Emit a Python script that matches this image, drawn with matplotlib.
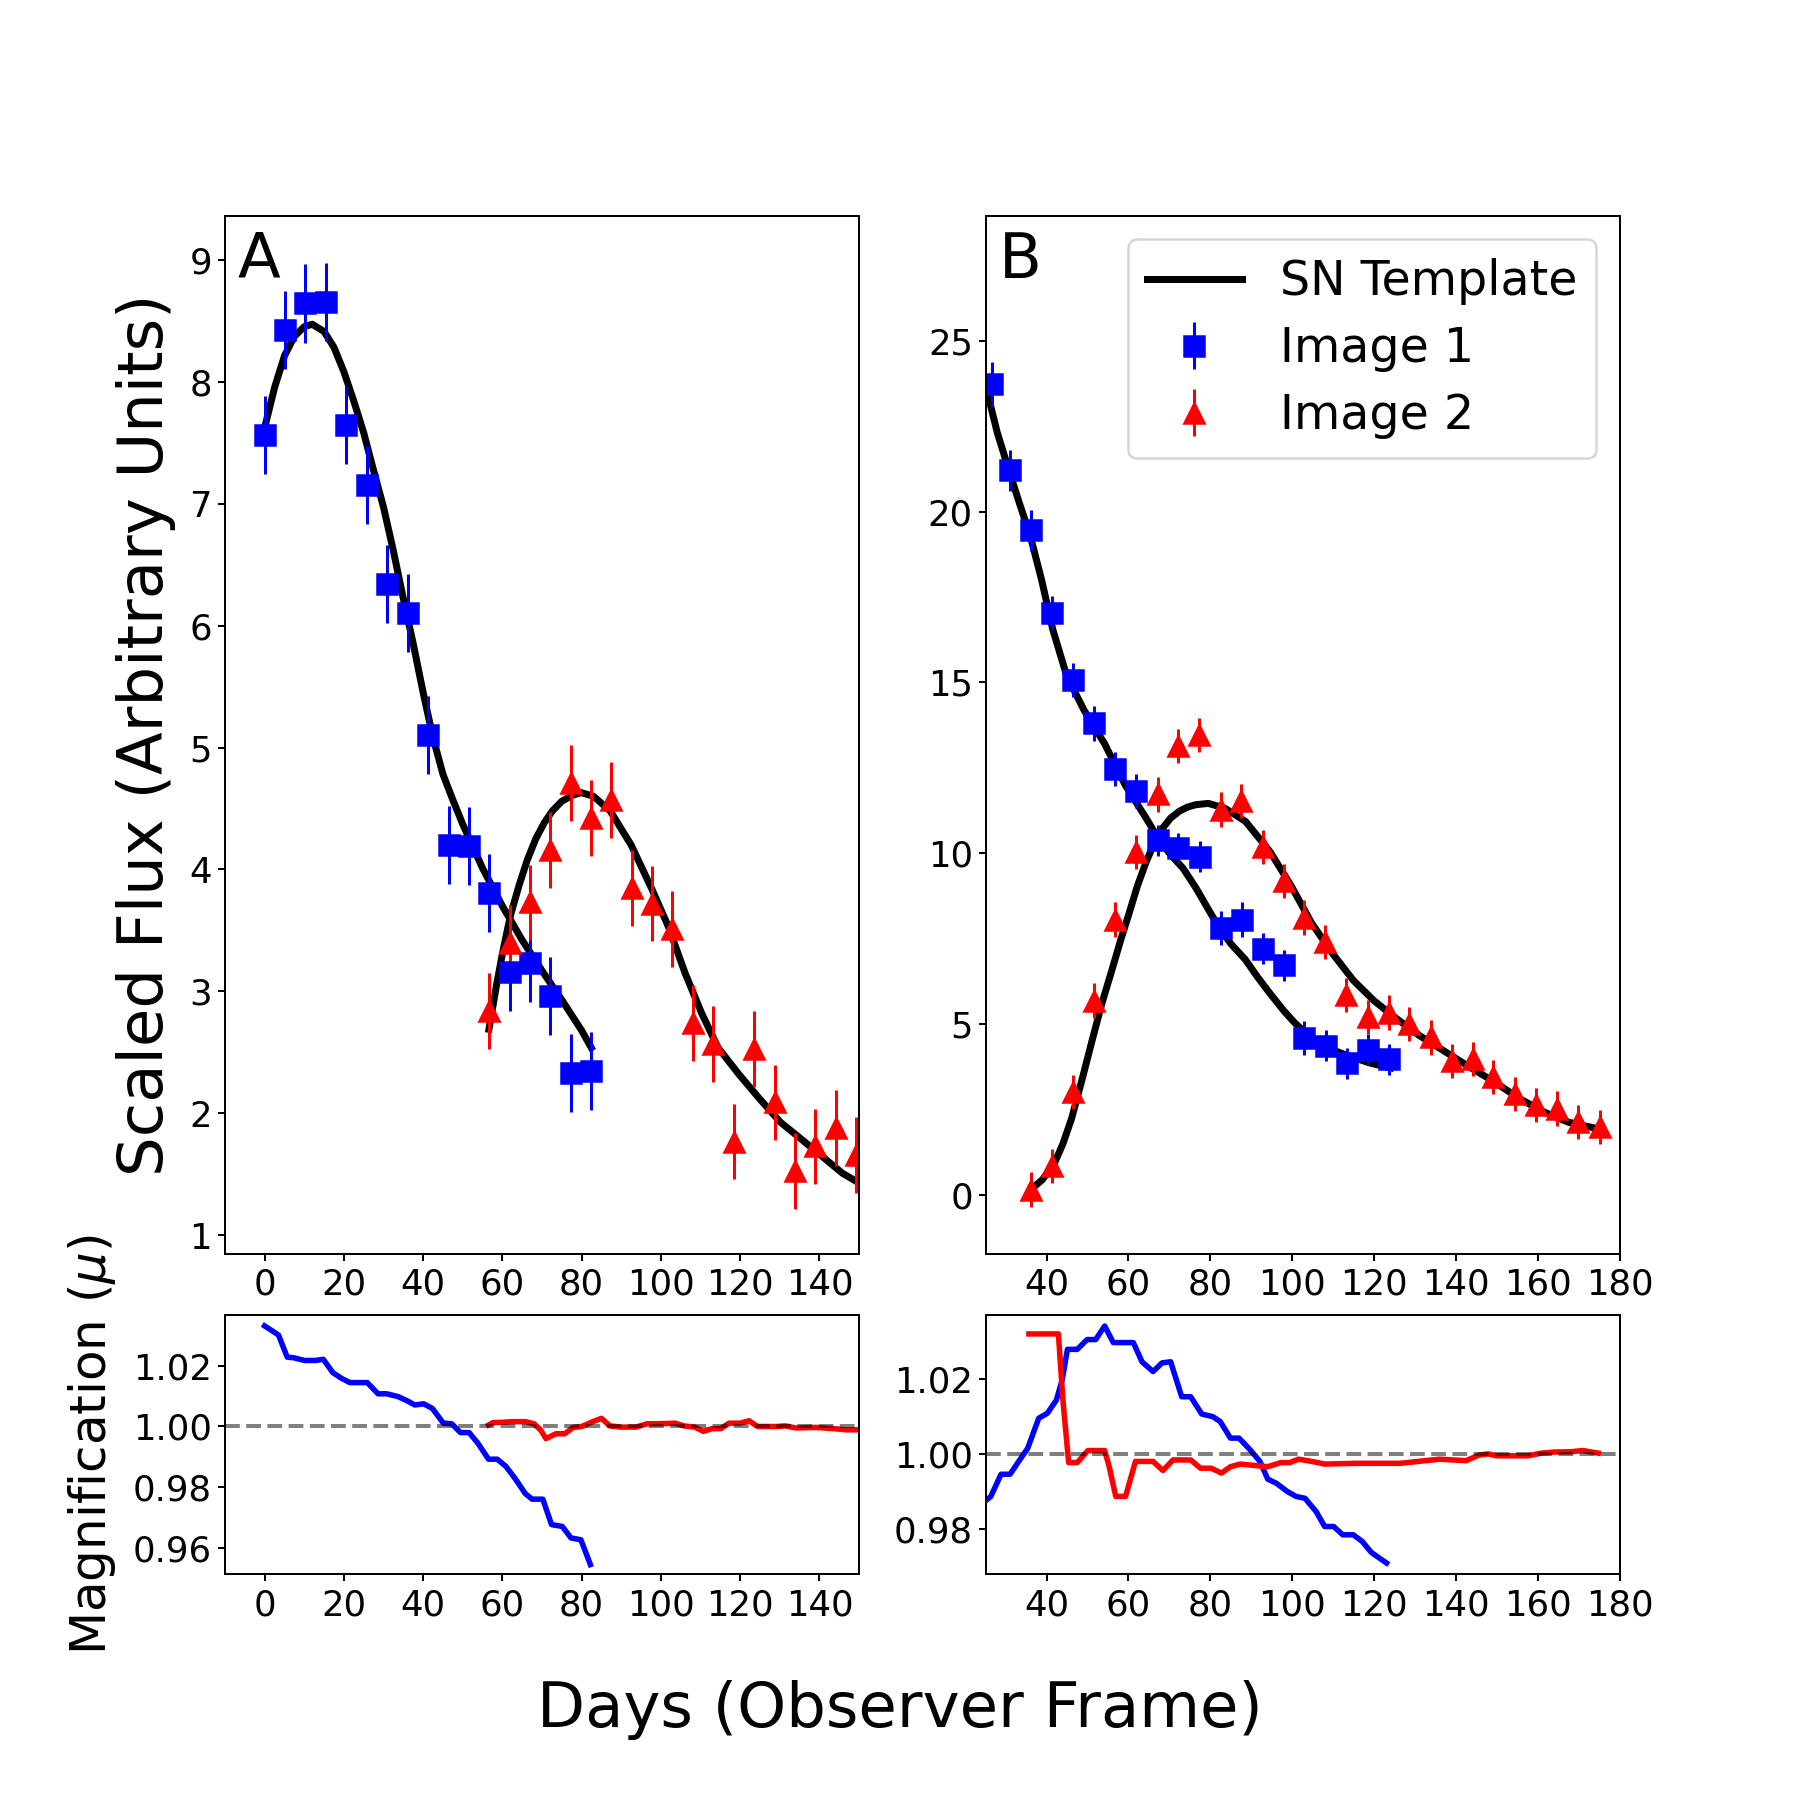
import matplotlib
matplotlib.use("Agg")
import matplotlib.pyplot as plt
from matplotlib.gridspec import GridSpec

# ---------------- Panel A data ----------------
a_img1_t = [0, 5.2, 10.3, 15.5, 20.6, 25.8, 30.9, 36.1, 41.2, 46.4, 51.5, 56.7, 61.8, 67.0, 72.1, 77.3, 82.4]
a_img1_f = [7.56, 8.42, 8.64, 8.65, 7.64, 7.15, 6.34, 6.10, 5.10, 4.20, 4.19, 3.81, 3.16, 3.23, 2.96, 2.33, 2.35]
a_img1_e = [0.32] * 17

a_img2_t = [56.7, 61.8, 67.0, 72.1, 77.3, 82.4, 87.5, 92.7, 97.8, 102.9, 108.1, 113.2, 118.4, 123.6, 128.8, 133.9, 139.0, 144.2, 149.3]
a_img2_f = [2.84, 3.40, 3.73, 4.16, 4.71, 4.42, 4.57, 3.85, 3.72, 3.51, 2.74, 2.57, 1.77, 2.53, 2.09, 1.53, 1.73, 1.88, 1.66]
a_img2_e = [0.31] * 19

a_tmp1_t = [0, 2.5, 5, 7.5, 10, 12, 15, 17.5, 20, 22.5, 25, 27.5, 30, 32.5, 35, 37.5, 40, 42.5, 45, 47.5, 50, 55, 60, 65, 70, 75, 80, 82.4]
a_tmp1_f = [7.62, 7.95, 8.21, 8.37, 8.45, 8.47, 8.41, 8.28, 8.08, 7.84, 7.58, 7.27, 6.97, 6.61, 6.22, 5.85, 5.45, 5.08, 4.78, 4.57, 4.37, 4.01, 3.70, 3.42, 3.17, 2.93, 2.68, 2.54]

a_tmp2_t = [56.6, 58.5, 60, 62, 64.2, 66.3, 68.4, 70.5, 72.6, 75, 77.8, 79.9, 83, 87.2, 92.5, 97.7, 101.9, 106.1, 110.3, 114.4, 119.7, 124.9, 130.1, 135.4, 140.6, 145.8, 150]
a_tmp2_f = [2.69, 3.05, 3.31, 3.62, 3.87, 4.08, 4.25, 4.38, 4.48, 4.56, 4.61, 4.63, 4.60, 4.48, 4.20, 3.84, 3.53, 3.15, 2.82, 2.54, 2.32, 2.12, 1.93, 1.79, 1.65, 1.51, 1.43]

a_mu1_t = [0, 1.9, 3.5, 5.7, 7.3, 10.1, 12.8, 14.8, 17.2, 19.4, 21.5, 25.9, 28.6, 30.8, 33.6, 35.8, 37.9, 40.1, 42.3, 45.1, 47.2, 49.4, 51.6, 53.8, 56.5, 58.7, 60.9, 63.1, 65.8, 67.5, 70.2, 72.4, 75.1, 77.3, 79.8, 82.2]
a_mu1 = [1.0332, 1.0316, 1.0302, 1.0229, 1.0227, 1.0218, 1.0218, 1.0222, 1.0178, 1.0159, 1.0145, 1.0145, 1.0108, 1.0108, 1.0099, 1.0086, 1.0071, 1.0075, 1.0060, 1.0011, 1.0009, 0.9980, 0.9980, 0.9945, 0.9892, 0.9892, 0.9868, 0.9830, 0.9778, 0.9760, 0.9760, 0.9676, 0.9670, 0.9632, 0.9626, 0.9544]

a_mu2_t = [56.5, 57.6, 60.3, 62.5, 65.8, 68.0, 69.6, 71.0, 73.5, 75.7, 77.9, 80.0, 82.8, 85.0, 87.1, 89.9, 93.7, 96.5, 99.7, 103.6, 105.8, 108.5, 110.7, 112.9, 115.1, 117.2, 120.0, 122.2, 124.4, 129.3, 131.4, 134.2, 139.1, 144.5, 146.7, 149.5]
a_mu2 = [1.0005, 1.0013, 1.0014, 1.0016, 1.0016, 1.0009, 0.9989, 0.9960, 0.9976, 0.9976, 0.9997, 1.0000, 1.0016, 1.0027, 1.0002, 0.9998, 0.9998, 1.0009, 1.0009, 1.0011, 1.0002, 0.9998, 0.9984, 0.9993, 0.9993, 1.0011, 1.0011, 1.0019, 1.0000, 1.0000, 1.0002, 0.9995, 0.9997, 0.9992, 0.9989, 0.9989]

# ---------------- Panel B data ----------------
b_img1_t = [26.8, 31.1, 36.2, 41.4, 46.5, 51.5, 56.8, 61.9, 67.1, 72.2, 77.4, 82.5, 87.7, 92.8, 97.9, 102.9, 108.2, 113.3, 118.5, 123.6]
b_img1_f = [23.72, 21.21, 19.45, 17.02, 15.08, 13.80, 12.47, 11.82, 10.38, 10.14, 9.90, 7.81, 8.06, 7.21, 6.72, 4.60, 4.37, 3.85, 4.25, 3.97]
b_img1_e = [0.65, 0.6, 0.6, 0.5, 0.5, 0.5, 0.5, 0.5, 0.46, 0.46, 0.46, 0.5, 0.5, 0.46, 0.46, 0.5, 0.46, 0.45, 0.45, 0.45]

b_img2_t = [36.2, 41.3, 46.5, 51.5, 56.8, 61.9, 67.1, 72.2, 77.2, 82.5, 87.5, 92.8, 97.9, 102.9, 108.0, 113.2, 118.4, 123.6, 128.6, 133.8, 138.9, 144.0, 149.1, 154.3, 159.4, 164.5, 169.7, 175.0]
b_img2_f = [0.16, 0.85, 3.02, 5.69, 8.06, 10.04, 11.72, 13.14, 13.46, 11.28, 11.52, 10.18, 9.19, 8.12, 7.41, 5.85, 5.20, 5.34, 5.00, 4.61, 3.91, 3.97, 3.46, 2.96, 2.63, 2.53, 2.13, 2.00]
b_img2_e = [0.5] * 28

b_tmp1_t = [25.3, 28, 31.1, 33.5, 36, 38.8, 41.5, 44.9, 49.1, 54.2, 59.2, 64.3, 67.3, 70, 73.4, 76.5, 79.5, 82, 85, 88.6, 91.5, 94.6, 98, 100.5, 102.7, 105, 107.8, 110, 112.8, 116, 119, 124]
b_tmp1_f = [23.6, 22.3, 21.1, 20.2, 19.3, 18.0, 16.56, 15.2, 14.2, 13.2, 12.0, 11.03, 10.43, 10.0, 9.55, 8.98, 8.36, 7.85, 7.35, 6.88, 6.38, 5.89, 5.38, 5.05, 4.80, 4.58, 4.37, 4.24, 4.11, 3.98, 3.86, 3.72]

b_tmp2_t = [36.2, 39, 42, 44, 46.1, 48.5, 51.1, 53.5, 56.2, 58.2, 60.2, 62.2, 64.3, 66.3, 68.3, 70.3, 72.4, 74.4, 76.4, 79.5, 83.5, 88.6, 94.6, 99.7, 104.7, 109.8, 114.9, 119.9, 125, 131.1, 137.1, 143.2, 149.2, 155.3, 161.4, 167.4, 174.5]
b_tmp2_f = [0.16, 0.45, 0.95, 1.5, 2.23, 3.3, 4.51, 5.6, 6.68, 7.5, 8.26, 9.05, 9.74, 10.3, 10.73, 11.03, 11.23, 11.35, 11.42, 11.46, 11.32, 10.93, 10.04, 9.05, 7.96, 7.07, 6.28, 5.69, 5.2, 4.66, 4.21, 3.75, 3.32, 2.83, 2.43, 2.13, 1.94]

b_mu1_t = [25.4, 26.4, 28.9, 31.1, 33.2, 35.4, 38.1, 40.2, 42.4, 43.8, 45.1, 47.5, 49.9, 52.0, 54.2, 56.3, 61.2, 63.3, 66.0, 68.2, 70.3, 73.0, 75.2, 77.9, 80.6, 82.4, 84.9, 87.0, 89.7, 92.1, 94.0, 96.1, 98.8, 100.9, 103.1, 105.8, 107.9, 110.1, 112.3, 114.9, 117.1, 119.3, 123.0]
b_mu1 = [0.9878, 0.9887, 0.9946, 0.9946, 0.9980, 1.0015, 1.0095, 1.0108, 1.0143, 1.0196, 1.0278, 1.0278, 1.0304, 1.0304, 1.0340, 1.0296, 1.0296, 1.0245, 1.0219, 1.0242, 1.0245, 1.0152, 1.0152, 1.0106, 1.0099, 1.0086, 1.0042, 1.0042, 1.0011, 0.9980, 0.9933, 0.9922, 0.9900, 0.9887, 0.9882, 0.9847, 0.9807, 0.9807, 0.9785, 0.9785, 0.9767, 0.9738, 0.9710]

b_mu2_t = [35.7, 42.9, 44.0, 45.4, 47.5, 50.1, 54.2, 55.3, 56.9, 59.3, 61.7, 66.0, 68.4, 70.9, 75.2, 77.6, 80.2, 82.7, 84.9, 87.3, 94.0, 97.2, 99.4, 101.5, 104.8, 107.9, 115.5, 126.3, 131.6, 135.9, 142.4, 145.6, 147.8, 149.9, 157.5, 160.7, 163.9, 168.2, 170.9, 174.7]
b_mu2 = [1.0319, 1.0319, 1.0143, 0.9977, 0.9977, 1.0009, 1.0009, 0.9966, 0.9887, 0.9887, 0.9980, 0.9980, 0.9956, 0.9984, 0.9984, 0.9962, 0.9962, 0.9949, 0.9966, 0.9973, 0.9966, 0.9977, 0.9977, 0.9986, 0.9980, 0.9973, 0.9975, 0.9975, 0.9981, 0.9986, 0.9982, 0.9997, 1.0000, 0.9995, 0.9995, 1.0002, 1.0005, 1.0006, 1.0009, 1.0002]

a_xticks = [0, 20, 40, 60, 80, 100, 120, 140]
b_xticks = [40, 60, 80, 100, 120, 140, 160, 180]
a_yticks = [1, 2, 3, 4, 5, 6, 7, 8, 9]
b_yticks = [0, 5, 10, 15, 20, 25]
a_mu_ticks = [0.96, 0.98, 1.00, 1.02]
b_mu_ticks = [0.98, 1.00, 1.02]

# ---------------- Figure ----------------
plt.rcParams['font.family'] = ['DejaVu Sans']
plt.rcParams['xtick.labelsize'] = 14.2
plt.rcParams['ytick.labelsize'] = 14.2
plt.rcParams['xtick.major.size'] = 2.7
plt.rcParams['ytick.major.size'] = 2.7
plt.rcParams['xtick.major.pad'] = 2.8
plt.rcParams['ytick.major.pad'] = 2.5

fig = plt.figure(figsize=(10, 10), dpi=180)
gs = GridSpec(2, 2, figure=fig, height_ratios=[4, 1], left=0.125, right=0.9,
              top=0.8802, bottom=0.1254, hspace=0.094, wspace=0.2)
axA = fig.add_subplot(gs[0, 0])
axB = fig.add_subplot(gs[0, 1])
axAm = fig.add_subplot(gs[1, 0])
axBm = fig.add_subplot(gs[1, 1])

tlw = 2.8
ms = 8
elw = 1.2

# Panel A
axA.plot(a_tmp1_t, a_tmp1_f, color='k', lw=tlw, label='SN Template')
axA.plot(a_tmp2_t, a_tmp2_f, color='k', lw=tlw)
axA.errorbar(a_img1_t, a_img1_f, yerr=a_img1_e, fmt='s', color='b', ms=ms, elinewidth=elw, capsize=0, label='Image 1')
axA.errorbar(a_img2_t, a_img2_f, yerr=a_img2_e, fmt='^', color='r', ms=ms, elinewidth=elw, capsize=0, label='Image 2')
axA.set_xlim(-10, 150)
axA.set_ylim(0.85, 9.36)
axA.set_xticks(a_xticks)
axA.set_yticks(a_yticks)
axA.text(0.02, 0.94, 'A', transform=axA.transAxes, fontsize=25, ha='left', va='baseline')
axA.set_ylabel('Scaled Flux (Arbitrary Units)', fontsize=25)
axA.yaxis.set_label_coords(-0.077, 0.5)

# Panel B
axB.plot(b_tmp1_t, b_tmp1_f, color='k', lw=tlw, label='SN Template')
axB.plot(b_tmp2_t, b_tmp2_f, color='k', lw=tlw)
axB.errorbar(b_img1_t, b_img1_f, yerr=b_img1_e, fmt='s', color='b', ms=ms, elinewidth=elw, capsize=0, label='Image 1')
axB.errorbar(b_img2_t, b_img2_f, yerr=b_img2_e, fmt='^', color='r', ms=ms, elinewidth=elw, capsize=0, label='Image 2')
axB.set_xlim(25.2, 180)
axB.set_ylim(-1.72, 28.66)
axB.set_xticks(b_xticks)
axB.set_yticks(b_yticks)
axB.text(0.02, 0.94, 'B', transform=axB.transAxes, fontsize=25, ha='left', va='baseline')
axB.legend(loc='upper right', fontsize=19, labelspacing=0.42)

# Magnification A
mlw = 2.2
axAm.plot(a_mu1_t, a_mu1, color='b', lw=mlw)
axAm.plot(a_mu2_t, a_mu2, color='r', lw=mlw)
axAm.axhline(1.0, color='k', alpha=0.5, ls='--', lw=1.6)
axAm.set_xlim(-10, 150)
axAm.set_ylim(0.9512, 1.0369)
axAm.set_xticks(a_xticks)
axAm.set_yticks(a_mu_ticks)
axAm.set_yticklabels(['%.2f' % v for v in a_mu_ticks])
axAm.set_ylabel(r'Magnification ($\mu$)', fontsize=20)
axAm.yaxis.set_label_coords(-0.169, 0.5)

# Magnification B
axBm.plot(b_mu1_t, b_mu1, color='b', lw=mlw)
axBm.plot(b_mu2_t, b_mu2, color='r', lw=mlw)
axBm.axhline(1.0, color='k', alpha=0.5, ls='--', lw=1.6)
axBm.set_xlim(25.2, 180)
axBm.set_ylim(0.968, 1.037)
axBm.set_xticks(b_xticks)
axBm.set_yticks(b_mu_ticks)
axBm.set_yticklabels(['%.2f' % v for v in b_mu_ticks])

fig.text(0.5, 0.0406, 'Days (Observer Frame)', fontsize=25, ha='center', va='baseline')

fig.savefig('out.png', dpi=180)
